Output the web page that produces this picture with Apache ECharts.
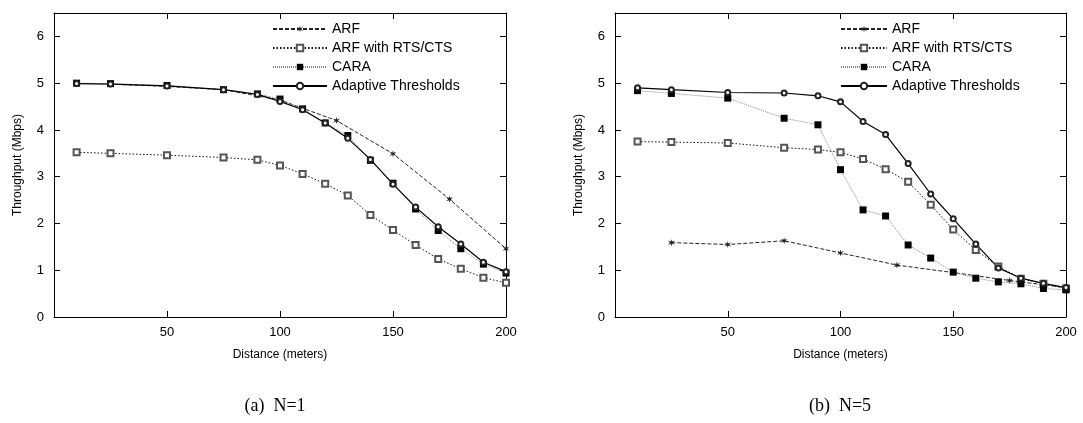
<!DOCTYPE html>
<html>
<head>
<meta charset="utf-8">
<script src="https://cdn.jsdelivr.net/npm/echarts@6/dist/echarts.min.js"></script>
<style>
  html, body { margin: 0; padding: 0; background: #fff; }
  #chart { width: 1083px; height: 423px; }
</style>
</head>
<body>
<div id="chart"></div>
<script>
  // distances (meters)
  var xs = [10, 25, 50, 75, 90, 100, 110, 120, 130, 140, 150, 160, 170, 180, 190, 200];
  var arfX = [25, 50, 75, 100, 125, 150, 175, 200];
  var xTicks = [50, 100, 150, 200];
  var yTicks = [0, 1, 2, 3, 4, 5, 6];

  // (a) N=1
  var arf1 = [4.98, 4.93, 4.86, 4.64, 4.20, 3.49, 2.52, 1.46];
  var rts1 = [3.52, 3.50, 3.46, 3.41, 3.36, 3.24, 3.06, 2.85, 2.60, 2.18, 1.86, 1.54, 1.24, 1.03, 0.84, 0.73];
  var cara1 = [5.00, 4.99, 4.95, 4.86, 4.77, 4.66, 4.45, 4.15, 3.88, 3.35, 2.86, 2.31, 1.85, 1.46, 1.13, 0.94];
  var adapt1 = [4.99, 4.98, 4.94, 4.86, 4.76, 4.61, 4.43, 4.15, 3.82, 3.37, 2.84, 2.35, 1.93, 1.56, 1.17, 0.97];

  // (b) N=5
  var arf5 = [1.59, 1.55, 1.63, 1.37, 1.11, 0.95, 0.78, 0.63];
  var rts5 = [3.75, 3.74, 3.72, 3.62, 3.58, 3.52, 3.38, 3.16, 2.89, 2.40, 1.87, 1.43, 1.08, 0.82, 0.71, 0.61];
  var cara5 = [4.84, 4.78, 4.68, 4.25, 4.11, 3.15, 2.29, 2.16, 1.54, 1.26, 0.96, 0.83, 0.75, 0.71, 0.61, 0.58];
  var adapt5 = [4.90, 4.86, 4.80, 4.79, 4.73, 4.60, 4.18, 3.90, 3.28, 2.63, 2.10, 1.56, 1.05, 0.83, 0.72, 0.63];

  var names = ['ARF', 'ARF with RTS/CTS', 'CARA', 'Adaptive Thresholds'];
  var font = "'Liberation Sans', Arial, sans-serif";
  // small six-point star for ARF
  var star = 'path://M5,0 L6,3.5 L10,2 L7,5 L10,8 L6,6.5 L5,10 L4,6.5 L0,8 L3,5 L0,2 L4,3.5 Z';

  function pairs(x, y) {
    return x.map(function (v, i) { return [v, y[i]]; });
  }

  function xAxes(grid) {
    var base = {
      type: 'value', gridIndex: grid, min: 0, max: 200, interval: 50,
      splitLine: { show: false },
      axisLine: { show: true, onZero: false, lineStyle: { color: '#000', width: 1 } },
      axisTick: { show: true, inside: true, length: 6, lineStyle: { color: '#000' } }
    };
    var bottom = Object.assign({}, base, {
      position: 'bottom',
      name: 'Distance (meters)', nameLocation: 'middle', nameGap: 32,
      nameTextStyle: { fontFamily: font, fontSize: 12, color: '#000' },
      axisLabel: {
        fontFamily: font, fontSize: 13, color: '#000', margin: 9,
        formatter: function (v) { return xTicks.indexOf(v) >= 0 ? v : ''; }
      }
    });
    var top = Object.assign({}, base, { position: 'top', axisLabel: { show: false } });
    return [bottom, top];
  }

  function yAxes(grid) {
    var base = {
      type: 'value', gridIndex: grid, min: 0, max: 6.5, interval: 1,
      splitLine: { show: false },
      axisLine: { show: true, onZero: false, lineStyle: { color: '#000', width: 1 } },
      axisTick: { show: true, inside: true, length: 6, lineStyle: { color: '#000' } }
    };
    var left = Object.assign({}, base, {
      position: 'left',
      name: 'Throughput (Mbps)', nameLocation: 'middle', nameGap: 30,
      nameTextStyle: { fontFamily: font, fontSize: 12, color: '#000' },
      axisLabel: {
        fontFamily: font, fontSize: 13, color: '#000', margin: 10,
        formatter: function (v) { return yTicks.indexOf(v) >= 0 ? v : ''; }
      }
    });
    var right = Object.assign({}, base, { position: 'right', axisLabel: { show: false } });
    return [left, right];
  }

  function seriesFor(idx, arf, rts, cara, adapt) {
    var xi = idx * 2;
    return [
      {
        name: 'ARF', type: 'line', xAxisIndex: xi, yAxisIndex: xi,
        data: pairs(arfX, arf), symbol: star, symbolSize: 7,
        itemStyle: { color: '#222' },
        lineStyle: { color: '#222', width: 1, type: [4, 2] }
      },
      {
        name: 'ARF with RTS/CTS', type: 'line', xAxisIndex: xi, yAxisIndex: xi,
        data: pairs(xs, rts), symbol: 'emptyRect', symbolSize: 6,
        itemStyle: { color: '#555', borderWidth: 1 },
        lineStyle: { color: '#111', width: 1, type: [1.5, 2] }
      },
      {
        name: 'CARA', type: 'line', xAxisIndex: xi, yAxisIndex: xi,
        data: pairs(xs, cara), symbol: 'rect', symbolSize: 7,
        itemStyle: { color: '#000' },
        lineStyle: { color: '#888', width: 1, type: [1, 1] }
      },
      {
        name: 'Adaptive Thresholds', type: 'line', xAxisIndex: xi, yAxisIndex: xi,
        data: pairs(xs, adapt), symbol: 'emptyCircle', symbolSize: 5,
        itemStyle: { color: '#222', borderWidth: 1 },
        lineStyle: { color: '#000', width: 1.2 }
      }
    ];
  }

  function legendAt(left, w) {
    return {
      data: names, orient: 'vertical', left: left, top: 22, align: 'left',
      itemWidth: w, itemHeight: 8, itemGap: 5, padding: 0,
      textStyle: { fontFamily: font, fontSize: 14, color: '#000', lineHeight: 14 },
      selectedMode: false
    };
  }

  var chart = echarts.init(document.getElementById('chart'));
  chart.setOption({
    animation: false,
    backgroundColor: '#fff',
    title: [
      { text: '(a)  N=1', left: 270, top: 392, textAlign: 'center',
        textStyle: { fontFamily: "'Liberation Serif', 'Times New Roman', serif", fontSize: 18, fontWeight: 'normal', color: '#000' } },
      { text: '(b)  N=5', left: 835, top: 392, textAlign: 'center',
        textStyle: { fontFamily: "'Liberation Serif', 'Times New Roman', serif", fontSize: 18, fontWeight: 'normal', color: '#000' } }
    ],
    legend: [legendAt(272, 54), legendAt(840, 46)],
    grid: [
      { left: 54, right: 577, top: 13, bottom: 106 },
      { left: 615, right: 17, top: 13, bottom: 106 }
    ],
    xAxis: xAxes(0).concat(xAxes(1)),
    yAxis: yAxes(0).concat(yAxes(1)),
    series: seriesFor(0, arf1, rts1, cara1, adapt1).concat(seriesFor(1, arf5, rts5, cara5, adapt5))
  });
</script>
</body>
</html>
